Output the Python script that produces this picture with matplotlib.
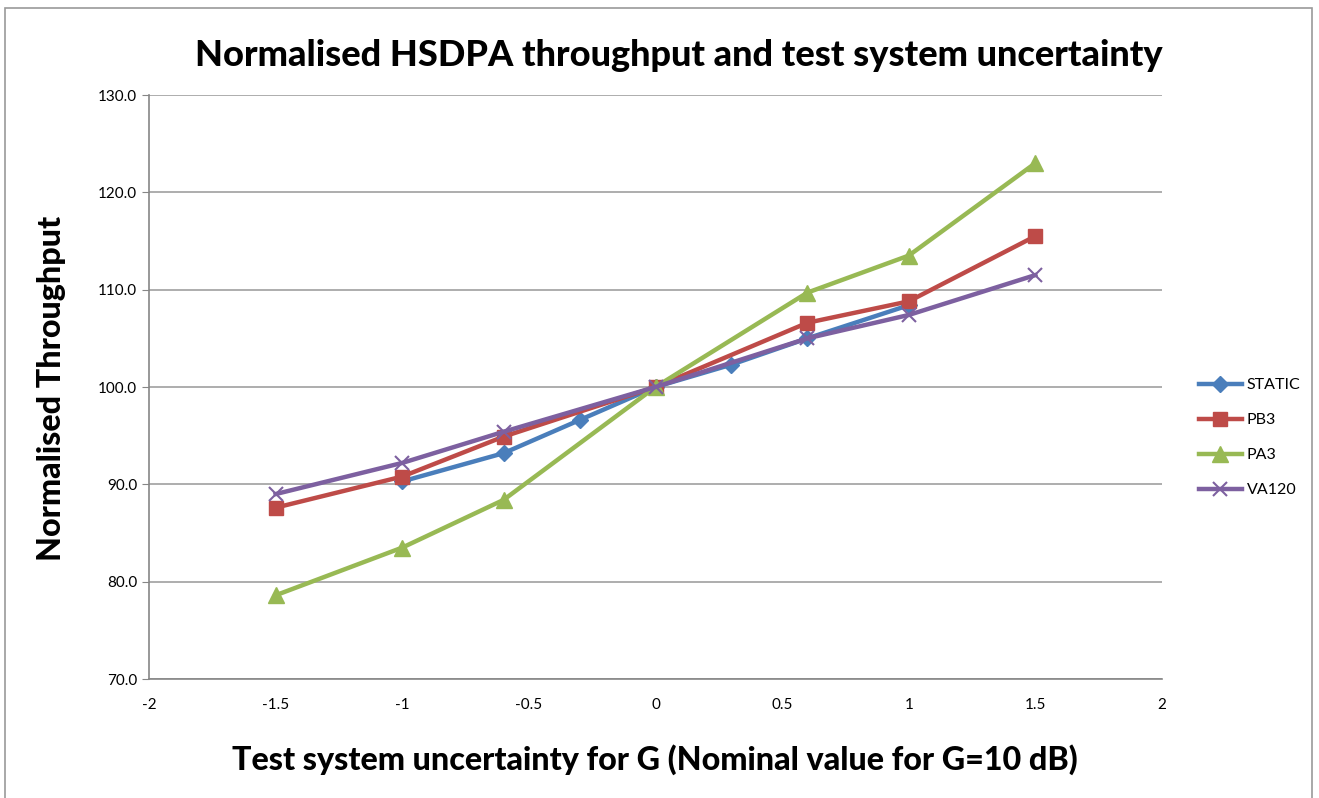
import matplotlib
matplotlib.use("Agg")
import matplotlib.pyplot as plt
from matplotlib.patches import Rectangle

plt.rcParams['font.family'] = ['Lato', 'DejaVu Sans']

title = "Normalised HSDPA throughput and test system uncertainty"
xlabel = "Test system uncertainty for G (Nominal value for G=10 dB)"
ylabel = "Normalised Throughput"

static_x = [-1.0, -0.6, -0.3, 0.0, 0.3, 0.6, 1.0]
static_y = [90.3, 93.2, 96.6, 100.0, 102.3, 105.0, 108.4]

pb3_x = [-1.5, -1.0, -0.6, 0.0, 0.6, 1.0, 1.5]
pb3_y = [87.6, 90.8, 94.9, 100.0, 106.6, 108.8, 115.5]

pa3_x = [-1.5, -1.0, -0.6, 0.0, 0.6, 1.0, 1.5]
pa3_y = [78.6, 83.5, 88.4, 100.0, 109.7, 113.5, 123.0]

va120_x = [-1.5, -1.0, -0.6, 0.0, 0.6, 1.0, 1.5]
va120_y = [89.0, 92.2, 95.4, 100.0, 105.0, 107.4, 111.5]

xticks = [-2, -1.5, -1, -0.5, 0, 0.5, 1, 1.5, 2]
xtick_labels = ["-2", "-1.5", "-1", "-0.5", "0", "0.5", "1", "1.5", "2"]
yticks = [70, 80, 90, 100, 110, 120, 130]
ytick_labels = ["70.0", "80.0", "90.0", "100.0", "110.0", "120.0", "130.0"]

fig = plt.figure(figsize=(13.19, 7.98), dpi=100)
fig.patches.append(Rectangle((5/1319, -0.01), 1307/1319, 1 - 8/798 + 0.01,
                             transform=fig.transFigure, fill=False,
                             edgecolor='#9a9a9a', linewidth=1.2))
ax = fig.add_axes([149/1319, 1 - 679/798, (1162 - 149)/1319, (679 - 95)/798])

lw = 3.2
ax.plot(static_x, static_y, color='#4A7EBB', lw=lw, marker='D', ms=8.5, label='STATIC', zorder=3)
ax.plot(pb3_x, pb3_y, color='#BE4B48', lw=lw, marker='s', ms=10.5, label='PB3', zorder=3)
ax.plot(pa3_x, pa3_y, color='#98B954', lw=lw, marker='^', ms=12, label='PA3', zorder=3)
ax.plot(va120_x, va120_y, color='#7D60A0', lw=lw, marker='x', ms=10.5, mew=1.5, label='VA120', zorder=3)

ax.set_xlim(-2, 2)
ax.set_ylim(70, 130)
ax.set_xticks(xticks)
ax.set_xticklabels(xtick_labels)
ax.set_yticks(yticks)
ax.set_yticklabels(ytick_labels)
ax.tick_params(axis='both', labelsize=11, length=5, color='#868686', direction='out')
ax.tick_params(axis='x', length=0, pad=14)
ax.grid(axis='y', color='#a0a0a0', lw=1.2)
ax.set_axisbelow(True)
for s in ['top', 'right']:
    ax.spines[s].set_visible(False)
for s in ['left', 'bottom']:
    ax.spines[s].set_color('#868686')
    ax.spines[s].set_linewidth(1.2)

fig.text(679/1319, 1 - 55/798, title, ha='center', va='center', fontsize=26, fontweight='black')
fig.text(655/1319, 1 - 760/798, xlabel, ha='center', va='center', fontsize=23.2, fontweight='black')
fig.text(52/1319, 1 - 388/798, ylabel, ha='center', va='center', fontsize=23.2, fontweight='black', rotation=90)

leg = ax.legend(loc='center left', bbox_to_anchor=(1.022, 0.413), frameon=False,
                fontsize=11.5, handlelength=2.7, labelspacing=1.3, handletextpad=0.3)

fig.savefig("out.png", dpi=100)
